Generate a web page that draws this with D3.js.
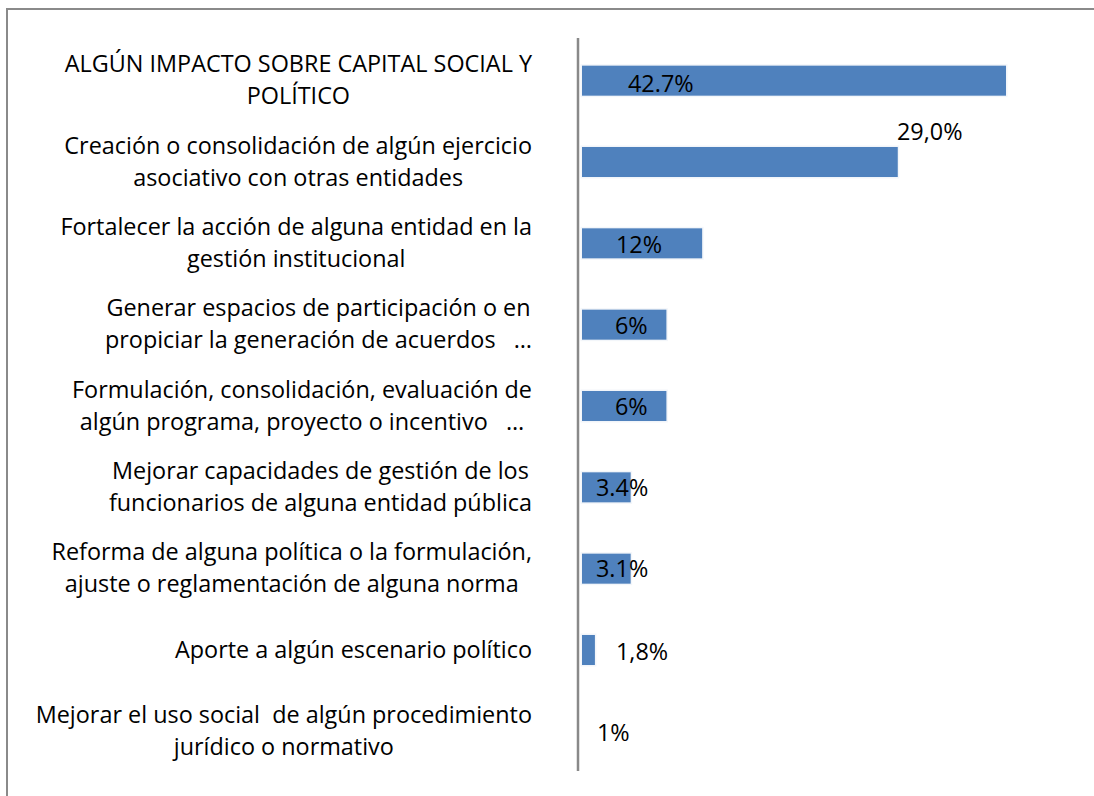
<!DOCTYPE html>
<html>
<head>
<meta charset="utf-8">
<script src="https://cdn.jsdelivr.net/npm/d3@7"></script>
<style>
  body { margin: 0; background: #fff; }
  svg text { font-family: "Open Sans", sans-serif; fill: #000; white-space: pre; }
</style>
</head>
<body>
<div id="chart"></div>
<script>
// categories, one entry per line of the wrapped label
var categories = [
  ["ALGÚN IMPACTO SOBRE CAPITAL SOCIAL Y", "POLÍTICO"],
  ["Creación o consolidación de algún ejercicio", "asociativo con otras entidades"],
  ["Fortalecer la acción de alguna entidad en la", "gestión institucional"],
  ["Generar espacios de participación o en", "propiciar la generación de acuerdos   …"],
  ["Formulación, consolidación, evaluación de", "algún programa, proyecto o incentivo   …"],
  ["Mejorar capacidades de gestión de los", "funcionarios de alguna entidad pública"],
  ["Reforma de alguna política o la formulación,", "ajuste o reglamentación de alguna norma"],
  ["Aporte a algún escenario político"],
  ["Mejorar el uso social  de algún procedimiento", "jurídico o normativo"]
];

// bar lengths as drawn (percent)
var values = [42.7, 31.8, 12.1, 8.5, 8.5, 4.9, 4.9, 1.3, 0];

// data labels as printed on the chart
var valueLabels = ["42.7%", "29,0%", "12%", "6%", "6%", "3.4%", "3.1%", "1,8%", "1%"];

// hand-placed label offsets (px from axis, px from bar centre to baseline)
var labelDx = [46, 315, 34, 33, 33, 14, 14, 34, 15];
var labelDy = [11, -22, 9.5, 9.5, 9, 9, 8, 10, 9.5];

var W = 1094, H = 796,
    axisX = 578,
    barX0 = 582,
    textRight = 532,
    lineGap = 32,
    fontSize = "23.4px";

var svg = d3.select("#chart").append("svg")
  .attr("width", W)
  .attr("height", H);

// outer frame (right and bottom edges fall outside the picture)
svg.append("rect")
  .attr("x", 7).attr("y", 9)
  .attr("width", W + 20).attr("height", H + 20)
  .attr("fill", "none")
  .attr("stroke", "#8a8a8a")
  .attr("stroke-width", 2);

var x = d3.scaleLinear()
  .domain([0, 42.7])
  .range([barX0, 1006]);

var y = d3.scaleBand()
  .domain(d3.range(categories.length))
  .range([40, 772])
  .paddingInner(0.631)
  .paddingOuter(0.3155);

// bars, with the faint light halo Excel puts around them
var bars = svg.selectAll("g.bar")
  .data(values)
  .enter().append("g")
  .attr("class", "bar");

bars.filter(function(d) { return d > 0; }).append("rect")
  .attr("x", x(0) - 1.5)
  .attr("y", function(d, i) { return y(i) - 1.5; })
  .attr("width", function(d) { return x(d) - x(0) + 3; })
  .attr("height", y.bandwidth() + 3)
  .attr("fill", "#f3f6fa");

bars.append("rect")
  .attr("x", x(0))
  .attr("y", function(d, i) { return y(i); })
  .attr("width", function(d) { return x(d) - x(0); })
  .attr("height", y.bandwidth())
  .attr("fill", "#4f81bd");

// vertical category axis
svg.append("line")
  .attr("x1", axisX).attr("x2", axisX)
  .attr("y1", 38).attr("y2", 771)
  .attr("stroke", "#898989")
  .attr("stroke-width", 2.5);

// category labels: lines centred on each other, block right-aligned
var cats = svg.selectAll("g.cat")
  .data(categories)
  .enter().append("g")
  .attr("class", "cat");

cats.each(function(lines, i) {
  var g = d3.select(this);
  var cy = y(i) + y.bandwidth() / 2;
  var texts = g.selectAll("text")
    .data(lines)
    .enter().append("text")
    .style("font-size", fontSize)
    .attr("text-anchor", "middle")
    .attr("y", function(d, j) { return cy + (j - (lines.length - 1) / 2) * lineGap + 7.5; })
    .text(function(d) { return d; });
  var maxW = d3.max(texts.nodes(), function(n) { return n.getComputedTextLength(); });
  texts.attr("x", textRight - maxW / 2);
});

// value labels
svg.selectAll("text.val")
  .data(valueLabels)
  .enter().append("text")
  .attr("class", "val")
  .style("font-size", fontSize)
  .attr("x", function(d, i) { return x(0) + labelDx[i]; })
  .attr("y", function(d, i) { return y(i) + y.bandwidth() / 2 + labelDy[i]; })
  .text(function(d) { return d; });
</script>
</body>
</html>
